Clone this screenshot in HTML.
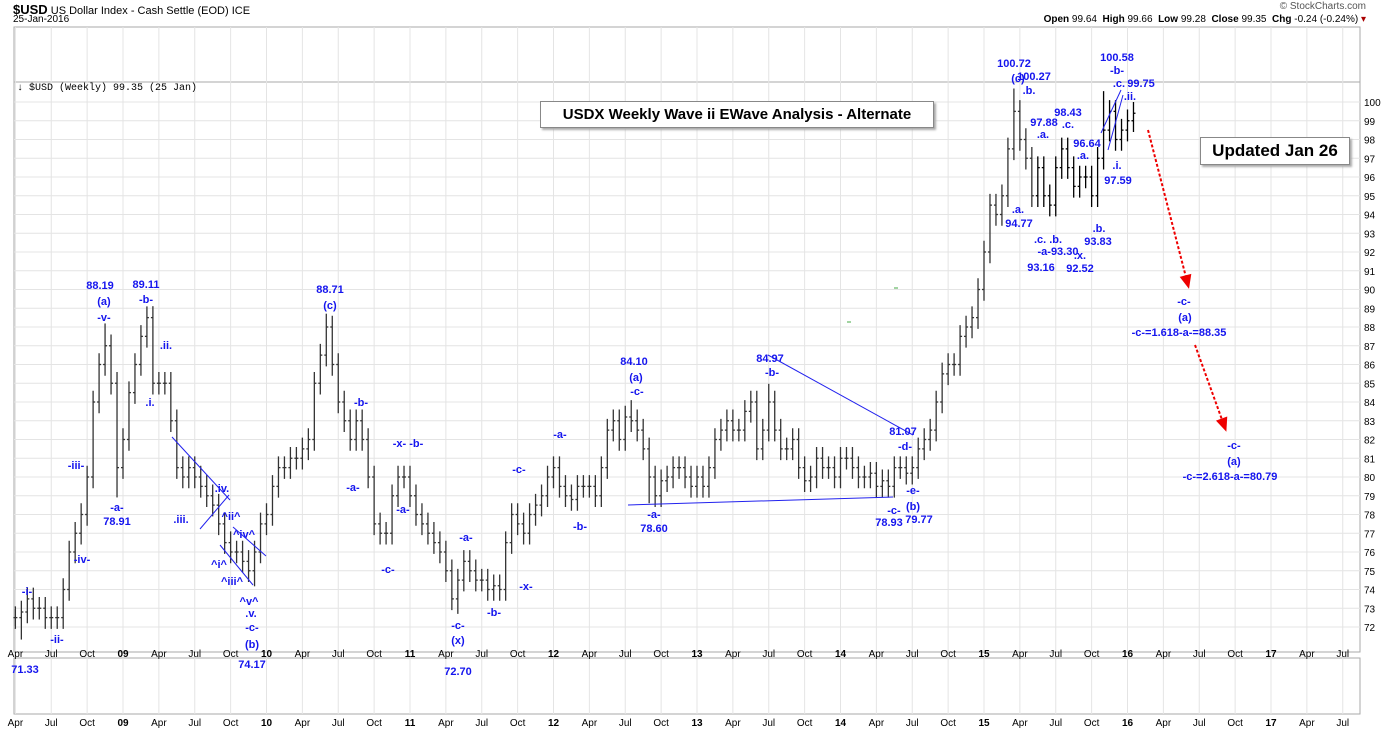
<!DOCTYPE html>
<html><head><meta charset="utf-8">
<style>
body{margin:0;background:#fff;}
svg{display:block;font-family:"Liberation Sans",sans-serif;}
.lb{fill:#1515ee;font-weight:bold;font-size:11px;text-anchor:middle;}
.ax{fill:#000;font-size:10px;}
</style></head><body>
<svg id="c" width="1400" height="730">
<g id="grid"></g>
<g id="bars"></g>
<g id="labels"></g>
</svg>
<script>
const startYear=2008.25;
const closes=[72.5,72.8,73.5,73,73,72.5,72.5,72.5,74,76,77,78,80,84,86,87,85,80.5,
82,84.5,86,87.5,88.5,85,85,85,83,80.5,80,80.5,80,79.5,79,78.5,77.5,76.5,76,76,75.5,75,76,77.5,
78,79.5,80.5,80.5,81,81,81.5,82,85,86.5,88,86,84,83,82,83,82,80,77.5,77,77,79,80,80,
79,78,77.5,77,76.5,76,75,73.5,74.5,75.5,75,74.5,74.5,74,74.2,74,76.5,78,77.5,77,78,78.5,79,80,
80.5,79.5,79,78.8,79.5,79.5,79.5,79,80.5,82.5,83,82,83.2,83,82.5,81.5,80,79,79.8,80,80.5,80.5,80,79.5,
80,79.5,80.5,82,82.5,83,82.5,82.5,83.5,84,81.5,82.5,84,82.5,81.5,81.5,82,80.5,79.8,80,81,80.5,80.5,80,
81,81,80.5,80,80,80.2,79.5,79.8,79.5,80.5,80.5,80.2,80.5,81.5,82,82.5,84,85.5,86,86,87.5,88,88.5,90,
92,94.5,94,95,97.5,99.5,98,97,95,96.5,95,94.5,96.5,97.5,96.5,95.5,96,96,95,97,98.5,99.5,98,98.5,
99,99.4];
const peaks=[[2008.30,71.33],[2008.95,78.91],[2008.87,88.19],[2009.19,89.11],[2009.90,74.17],[2010.43,88.71],[2011.34,72.70],[2012.55,84.10],[2012.68,78.60],[2013.50,84.97],[2014.37,78.93],[2015.21,100.72],[2015.84,100.58]];
const priceTicks=[72,73,74,75,76,77,78,79,80,81,82,83,84,85,86,87,88,89,90,91,92,93,94,95,96,97,98,99,100];
const monthLabels=["Apr","Jul","Oct","09","Apr","Jul","Oct","10","Apr","Jul","Oct","11","Apr","Jul","Oct","12","Apr","Jul","Oct","13","Apr","Jul","Oct","14","Apr","Jul","Oct","15","Apr","Jul","Oct","16","Apr","Jul","Oct","17","Apr","Jul"];
const X=t=>123+(t-2009)*143.5;
const Y=v=>102+(100-v)*18.75;
const NS="http://www.w3.org/2000/svg";
function mk(tag,attrs,parent,text){const e=document.createElementNS(NS,tag);for(const k in attrs)e.setAttribute(k,attrs[k]);if(text!==undefined)e.textContent=text;parent.appendChild(e);return e;}
const svg=document.getElementById('c'),grid=document.getElementById('grid'),bars=document.getElementById('bars'),labels=document.getElementById('labels');
// frames
let fr=mk('rect',{x:14,y:27,width:1346,height:625,fill:'none',stroke:'#aaa'},grid);


let fr2=mk('rect',{x:14,y:658,width:1346,height:56,fill:'none',stroke:'#aaa'},grid);


mk('line',{x1:14,y1:82,x2:1360,y2:82,stroke:'#aaa'},grid);
for(let v=72;v<=104;v++){const y=Y(v);if(y<84)continue;mk('line',{x1:14,y1:y,x2:1360,y2:y,stroke:'#e4e4e4'},grid);}
priceTicks.forEach(v=>{const t=mk('text',{x:1364,y:Y(v)+4,class:'ax'},grid,String(v));

});
monthLabels.forEach((m,i)=>{const x=X(startYear+i*0.25);
mk('line',{x1:x,y1:27,x2:x,y2:652,stroke:'#e4e4e4'},grid);
mk('line',{x1:x,y1:658,x2:x,y2:714,stroke:'#e4e4e4'},grid);
const bold=/^\d/.test(m);
const a=mk('text',{x:x,y:657,class:'ax','text-anchor':'middle','font-weight':bold?'bold':'normal'},grid,m);


const b=mk('text',{x:x,y:726,class:'ax','text-anchor':'middle','font-weight':bold?'bold':'normal'},grid,m);

});
// bars
closes.forEach((c,i)=>{const p=i?closes[i-1]:c;const t=startYear+i/24;
let hi=Math.max(p,c)+0.6,lo=Math.min(p,c)-0.6;
peaks.forEach(([pt,pv])=>{if(Math.abs(pt-t)<1/48){if(pv>hi)hi=pv;if(pv<lo)lo=pv;}});
const x=X(t);
const g=mk('g',{stroke:i>170?'#000':'#333','stroke-width':1.3},bars);


mk('line',{x1:x,y1:Y(hi),x2:x,y2:Y(lo)},g);
mk('line',{x1:x-2,y1:Y(p),x2:x,y2:Y(p)},g);
mk('line',{x1:x,y1:Y(c),x2:x+2,y2:Y(c)},g);});
// annotations
const ann=[["-i-",27,595],["-ii-",57,643],["-iii-",76,469],["-iv-",82,563],["88.19",100,289],["(a)",104,305],["-v-",104,321],["-a-",117,511],["78.91",117,525],["89.11",146,288],["-b-",146,303],[".ii.",166,349],[".i.",150,406],[".iii.",181,523],[".iv.",222,492],["^ii^",231,520],["^iv^",244,538],["^i^",219,568],["^iii^",232,585],["^v^",249,605],[".v.",251,617],["-c-",252,631],["(b)",252,648],["74.17",252,668],["71.33",25,673],["88.71",330,293],["(c)",330,309],["-b-",361,406],["-a-",353,491],["-x- -b-",408,447],["-a-",403,513],["-c-",388,573],["-c-",458,629],["(x)",458,644],["72.70",458,675],
["-a-",466,541],["-b-",494,616],["-c-",519,473],["-x-",526,590],["-a-",560,438],["-b-",580,530],["84.10",634,365],["(a)",636,381],["-c-",637,395],["-a-",654,518],["78.60",654,532],["84.97",770,362],["-b-",772,376],["81.07",903,435],["-d-",905,450],["-e-",913,494],["(b)",913,510],["-c-",894,514],["78.93",889,526],["79.77",919,523],
["100.72",1014,67],["(c)",1018,82],["100.27",1034,80],[".b.",1029,94],["97.88",1044,126],[".a.",1043,138],["98.43",1068,116],[".c.",1068,128],["96.64",1087,147],[".a.",1083,159],[".a.",1018,213],["94.77",1019,227],[".c. .b.",1048,243],["-a-93.30",1058,255],["93.16",1041,271],[".x.",1080,259],["92.52",1080,272],[".b.",1099,232],["93.83",1098,245],["100.58",1117,61],["-b-",1117,74],[".c.",1119,87],["99.75",1141,87],[".ii.",1130,100],[".i.",1117,169],["97.59",1118,184],
["-c-",1184,305],["(a)",1185,321],["-c-=1.618-a-=88.35",1179,336],["-c-",1234,449],["(a)",1234,465],["-c-=2.618-a-=80.79",1230,480]];
ann.forEach(([s,x,y])=>{const t=mk('text',{x:x,y:y,class:'lb'},labels,s);

});
// trendlines
[[172,437,230,500],[200,529,229,495],[220,545,253,585],[233,527,266,556],[628,505,893,497],[768,355,913,435],[1101,133,1121,90],[1108,150,1123,95]].forEach(l=>{
const e=mk('line',{x1:l[0],y1:l[1],x2:l[2],y2:l[3],stroke:'#2222ee','stroke-width':1},labels);

});
[[1148,130,1188,285],[1195,345,1225,428]].forEach(l=>{
const e=mk('line',{x1:l[0],y1:l[1],x2:l[2],y2:l[3],stroke:'#e00','stroke-width':2,'stroke-dasharray':'3,2'},labels);


const dx=l[2]-l[0],dy=l[3]-l[1],L=Math.hypot(dx,dy),ux=dx/L,uy=dy/L;
const bx=l[2]-ux*10,by=l[3]-uy*10;
mk('polygon',{points:`${l[2]+ux*4},${l[3]+uy*4} ${bx-uy*6},${by+ux*6} ${bx+uy*6},${by-ux*6}`,fill:'#e00'},labels);});
mk('line',{x1:894,y1:288,x2:898,y2:288,stroke:'#4a4'},labels);
mk('line',{x1:847,y1:322,x2:851,y2:322,stroke:'#4a4'},labels);
</script>
<div style="position:absolute;left:13px;top:2px;font-size:11px;font-family:'Liberation Sans',sans-serif"><b style="font-size:13px">$USD</b> US Dollar Index - Cash Settle (EOD) ICE</div>
<div style="position:absolute;left:13px;top:14px;font-size:10px;font-family:'Liberation Sans',sans-serif">25-Jan-2016</div>
<div style="position:absolute;left:17px;top:83px;font-size:10px;font-family:'Liberation Mono',monospace">↓ $USD (Weekly) 99.35 (25 Jan)</div>
<div style="position:absolute;right:34px;top:1px;font-size:10px;color:#555;font-family:'Liberation Sans',sans-serif">© StockCharts.com</div>
<div style="position:absolute;right:34px;top:14px;font-size:10px;font-family:'Liberation Sans',sans-serif"><b>Open</b> 99.64 &nbsp;<b>High</b> 99.66 &nbsp;<b>Low</b> 99.28 &nbsp;<b>Close</b> 99.35 &nbsp;<b>Chg</b> -0.24 (-0.24%) <span style="color:#a00">▾</span></div>
<div style="position:absolute;left:540px;top:101px;width:392px;height:25px;border:1px solid #888;box-shadow:2px 2px 2px #aaa;background:#fff;font:bold 15px 'Liberation Sans',sans-serif;line-height:25px;text-align:center">USDX Weekly Wave ii EWave Analysis - Alternate</div>
<div style="position:absolute;left:1200px;top:137px;width:148px;height:26px;border:1px solid #888;box-shadow:2px 2px 2px #aaa;background:#fff;font:bold 17px 'Liberation Sans',sans-serif;line-height:26px;text-align:center">Updated Jan 26</div>
</body></html>
